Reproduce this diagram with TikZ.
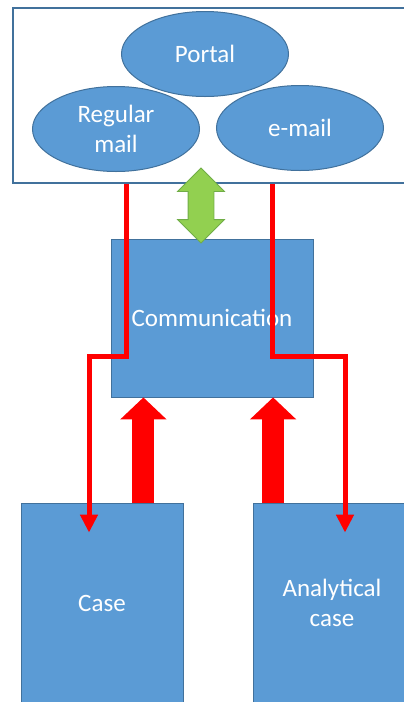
\documentclass[tikz,border=0pt]{standalone}
\usepackage{fontspec}
\setmainfont{Carlito}
\usetikzlibrary{positioning, shapes.geometric, shapes.arrows, arrows.meta}
\definecolor{boxB}{HTML}{5B9BD5}
\definecolor{edgeB}{HTML}{41719C}
\definecolor{syncG}{HTML}{92D050}
\definecolor{syncE}{HTML}{70AD47}
\definecolor{mailR}{HTML}{FF0000}

\begin{document}
\begin{tikzpicture}[x=1pt, y=-1pt, font=\fontsize{25}{30}\selectfont,
  blob/.style={ellipse, fill=boxB, draw=edgeB, line width=1pt, text=white,
    minimum width=167pt, minimum height=85pt, inner sep=0pt, align=center},
  block/.style={rectangle, fill=boxB, draw=edgeB, line width=0.8pt, text=white,
    inner sep=0pt, align=center},
  mailline/.style={draw=mailR, line width=5pt, -{Triangle[width=17pt,length=18pt]}},
  pushline/.style={draw=mailR, line width=22pt, -{Triangle[width=45pt,length=22pt]}}]
  \useasboundingbox (0,0) rectangle (404,702);
  \clip (0,0) rectangle (404,702);
  % channels
  \node[draw=edgeB, line width=2.5pt, minimum width=411pt, minimum height=175pt,
    inner sep=0pt] (frame) at (218.5,95.5) {};
  \node[blob] (portal) at (205,54) {Portal};
  \node[blob] (regular) at (116,129) {Regular\\mail};
  \node[blob] (email) at (300,128) {e-mail};
  % blocks
  \node[block, minimum width=202pt, minimum height=158pt] (comm) at (212,318) {Communication};
  \node[block, minimum width=162pt, minimum height=200pt] (case) at (102,603) {Case};
  \node[block, minimum width=158pt, minimum height=200pt] (analytic) at (332,603) {Analytical\\case};
  % exchange with the channels
  \node[double arrow, rotate=90, fill=syncG, draw=syncE, line width=0.8pt,
    minimum height=75pt, double arrow head extend=10.5pt,
    inner sep=12.5pt] (sync) at (201,205.5) {};
  % cases feed communication
  \coordinate (casepush) at ([xshift=-40pt]case.north east);
  \coordinate (anapush) at ([xshift=20.5pt]analytic.north west);
  \draw[pushline] (casepush) -- (casepush |- comm.south);
  \draw[pushline] (anapush) -- (anapush |- comm.south);
  % incoming mail
  \coordinate (bend) at ([yshift=-38pt]comm.center);
  \coordinate (regtop) at ([xshift=10pt]regular.south);
  \coordinate (regtip) at ([xshift=-13pt,yshift=-30pt]case.north);
  \coordinate (emailtop) at ([xshift=-28pt]email.south);
  \coordinate (anatip) at ([xshift=13pt,yshift=-30pt]analytic.north);
  \draw[mailline] (regtop |- frame.south) |- (bend -| regtip) -- (regtip);
  \draw[mailline] (emailtop |- frame.south) |- (bend -| anatip) -- (anatip);
\end{tikzpicture}
\end{document}
